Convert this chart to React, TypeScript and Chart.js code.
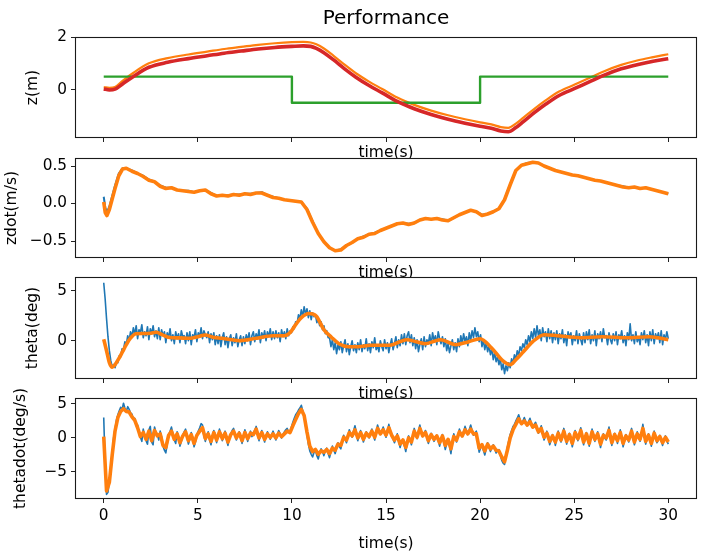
import React, { useEffect, useRef } from 'react';
import { Chart, registerables } from 'chart.js';

Chart.register(...registerables);

const FONT = "'DejaVu Sans', 'Liberation Sans', sans-serif";
const C_BLUE = '#1f77b4';
const C_ORANGE = '#ff7f0e';
const C_GREEN = '#2ca02c';
const C_RED = '#d62728';

const W = 723;
const H = 554;
const LEFT = 75.5;
const RIGHT = 696.5;
const TICK_SIZE = 15.3;
const LABEL_SIZE = 15.5;
const TITLE_SIZE = 20;
const TICK_LEN = 4.5;

const X_MIN = -1.5;
const X_MAX = 31.5;
const X_TICKS = [0, 5, 10, 15, 20, 25, 30];
const DT = 0.15;
const DT_FINE = 0.075;

// ---------- Panel 1 : z(m) ----------
const zT = [0, 0.3, 0.6, 1.0, 1.6, 2.4, 3.4, 4.5, 5.5, 6.4, 7.3, 8.2, 9.1, 10.0, 10.6, 11.0, 11.3, 11.7, 12.2, 12.8, 13.4, 14.1, 14.8, 15.6, 16.5, 17.4, 18.3, 19.2, 20.0, 20.6, 21.1, 21.5, 21.9, 22.3, 22.9, 23.5, 24.2, 25.0, 25.8, 26.6, 27.5, 28.4, 29.2, 30.0];
const zRed = [0.03, -0.01, 0.02, 0.22, 0.52, 0.86, 1.05, 1.19, 1.30, 1.40, 1.48, 1.56, 1.62, 1.66, 1.68, 1.66, 1.58, 1.42, 1.15, 0.80, 0.48, 0.16, -0.12, -0.45, -0.73, -0.95, -1.13, -1.28, -1.40, -1.48, -1.58, -1.61, -1.45, -1.22, -0.87, -0.55, -0.22, 0.04, 0.30, 0.56, 0.80, 0.97, 1.09, 1.19];
const zOrange = [0.10, 0.07, 0.10, 0.34, 0.66, 1.01, 1.21, 1.35, 1.46, 1.56, 1.64, 1.72, 1.78, 1.82, 1.83, 1.81, 1.74, 1.58, 1.31, 0.96, 0.63, 0.31, 0.03, -0.30, -0.58, -0.80, -0.98, -1.13, -1.25, -1.33, -1.43, -1.46, -1.30, -1.07, -0.72, -0.40, -0.07, 0.19, 0.45, 0.71, 0.95, 1.13, 1.25, 1.36];
const refT = [0, 10, 10, 20, 20, 30];
const refZ = [0.5, 0.5, -0.5, -0.5, 0.5, 0.5];

// ---------- Panel 2 : zdot(m/s) ----------
const zdotHeadT = [0, 0.08, 0.17, 0.3, 0.45, 0.6, 0.8, 1.0, 1.2];
const zdotTailStart = 1.5;
const zdotTailStep = 0.3;
const zdotHeadOrange = [0.02, -0.12, -0.16, -0.08, 0.06, 0.20, 0.37, 0.46, 0.47];
const zdotTailOrange = [
  0.43, 0.40, 0.36, 0.31, 0.29, 0.23, 0.20, 0.21, 0.18, 0.17,
  0.16, 0.15, 0.17, 0.18, 0.13, 0.10, 0.11, 0.10, 0.12, 0.11,
  0.13, 0.12, 0.14, 0.14, 0.11, 0.08, 0.07, 0.05, 0.04, 0.03,
  0.02, -0.08, -0.25, -0.40, -0.51, -0.59, -0.63, -0.62, -0.56, -0.52,
  -0.47, -0.45, -0.41, -0.40, -0.36, -0.33, -0.30, -0.27, -0.26, -0.28,
  -0.26, -0.22, -0.20, -0.21, -0.20, -0.22, -0.23, -0.19, -0.15, -0.12,
  -0.09, -0.11, -0.16, -0.14, -0.11, -0.07, 0.05, 0.25, 0.44, 0.51,
  0.53, 0.55, 0.54, 0.50, 0.47, 0.44, 0.42, 0.40, 0.38, 0.37,
  0.35, 0.33, 0.31, 0.30, 0.28, 0.26, 0.24, 0.22, 0.21, 0.22,
  0.20, 0.21, 0.19, 0.17, 0.15, 0.13,
];
const zdotHeadBlue = [0.09, -0.05, -0.12, -0.04, 0.10, 0.24, 0.40, 0.47, 0.47];
const zdotTailBlue = [
  0.44, 0.40, 0.37, 0.32, 0.29, 0.24, 0.21, 0.21, 0.18, 0.17,
  0.17, 0.15, 0.17, 0.18, 0.14, 0.10, 0.11, 0.11, 0.12, 0.12,
  0.13, 0.13, 0.14, 0.15, 0.11, 0.09, 0.07, 0.05, 0.04, 0.03,
  0.02, -0.07, -0.24, -0.40, -0.51, -0.59, -0.63, -0.61, -0.56, -0.52,
  -0.47, -0.44, -0.41, -0.39, -0.36, -0.33, -0.30, -0.27, -0.26, -0.27,
  -0.26, -0.22, -0.20, -0.21, -0.20, -0.21, -0.23, -0.19, -0.15, -0.12,
  -0.09, -0.11, -0.15, -0.14, -0.11, -0.07, 0.06, 0.26, 0.44, 0.51,
  0.54, 0.55, 0.54, 0.50, 0.47, 0.44, 0.42, 0.40, 0.38, 0.37,
  0.35, 0.33, 0.31, 0.30, 0.28, 0.26, 0.24, 0.23, 0.21, 0.22,
  0.20, 0.21, 0.19, 0.17, 0.15, 0.13,
];

// ---------- Panel 3 : theta(deg) ----------
const thetaBlue = [
  5.8, 4.2, 2.2, 0.4, -1.0, -2.0, -2.6, -2.4, -2.7, -2.1, -2.2, -1.5, -1.6, -0.8, -0.9, -0.1, -0.4, 0.5, 0.0, 0.9,
  0.4, 1.3, 0.6, 1.5, 0.2, 1.1, 0.8, 1.6, 0.3, 0.9, 0.5, 1.4, 0.1, 1.2, 0.7, 1.5, 0.4, 1.0, 0.2, 1.3,
  0.1, 1.1, 0.5, 0.9, -0.2, 0.8, 0.3, 1.2, 0.0, 0.6, -0.3, 0.9, 0.2, 0.7, -0.2, 1.0, 0.4, 0.5, -0.3, 0.8,
  0.0, 0.9, -0.4, 0.6, 0.3, 1.1, -0.1, 0.8, 0.4, 1.3, 0.2, 1.0, 0.6, 0.3, 0.9, -0.2, 0.7, 0.1, 0.8, -0.4,
  0.5, -0.3, 0.6, -0.6, 0.3, 0.8, -0.4, 0.4, -0.7, 0.2, 0.6, -0.5, 0.3, -0.2, 0.7, -0.6, 0.1, 0.5, -0.5, 0.4,
  -0.3, 0.6, 0.0, 0.8, -0.4, 0.5, 0.9, -0.1, 0.7, 0.2, 1.1, -0.2, 0.8, 0.3, 1.0, 0.0, 0.9, 0.4, 1.2, 0.1,
  0.9, 0.2, 1.0, 0.3, 0.8, -0.1, 1.1, 0.4, 0.9, 0.2, 1.2, 0.5, 1.0, 0.8, 1.4, 1.2, 1.9, 1.7, 2.6, 2.2,
  3.1, 2.4, 3.4, 2.6, 3.2, 2.3, 3.0, 2.1, 2.8, 2.4, 2.6, 1.8, 2.2, 1.5, 1.9, 1.1, 1.5, 0.7, 1.0, 0.3,
  0.3, -0.6, 0.1, -0.9, -0.2, -1.3, -0.4, -0.9, -0.1, -1.2, -0.5, 0.1, -1.1, -0.3, -1.4, -0.6, 0.0, -1.0, -0.4, -1.2,
  -0.2, -0.9, 0.1, -1.1, -0.4, -0.8, 0.2, -1.0, -0.3, -1.2, -0.1, -0.7, 0.3, -0.9, -0.5, -1.1, 0.0, -0.6, -1.0, 0.1,
  -0.8, -0.2, -1.2, -0.4, 0.2, -0.9, -0.3, 0.4, -0.7, 0.1, -0.5, 0.6, -0.3, 0.7, -0.4, 0.5, 0.9, -0.2, 0.6, -0.5,
  0.3, -0.8, 0.1, -1.1, -0.4, 0.2, -0.9, 0.4, -0.6, 0.1, -0.3, 0.6, -0.5, 0.8, 0.0, 0.5, -0.4, 0.9, 0.2, -0.3,
  0.4, -0.6, 0.2, -1.0, -0.3, -1.2, -0.5, 0.1, -0.9, -0.2, -1.1, 0.2, -0.6, 0.5, -0.3, 0.7, -0.1, 0.4, -0.5, 0.8,
  0.0, 1.0, 0.3, 1.3, 0.4, 0.9, -0.1, 0.6, -0.6, 0.1, -0.9, -0.2, -1.1, -0.5, -1.4, -0.8, -1.9, -1.2, -2.1, -1.6,
  -2.4, -1.8, -2.9, -2.3, -3.3, -2.5, -3.0, -2.2, -2.7, -1.8, -2.3, -1.4, -1.9, -1.0, -1.5, -0.6, -1.0, -0.3, -0.7, 0.1,
  -0.4, 0.5, -0.1, 0.9, 0.2, 1.2, 0.3, 1.5, 0.5, 1.1, 0.0, 1.3, 0.4, 0.9, -0.1, 1.2, 0.2, 1.0, -0.2, 0.8,
  0.1, 1.0, -0.3, 0.7, 0.2, 1.1, -0.2, 0.6, -0.5, 0.9, 0.3, 0.8, -0.4, 0.5, 0.0, 1.0, -0.3, 0.7, 0.1, -0.4,
  0.8, -0.2, 0.9, 0.1, 1.1, -0.3, 0.6, 0.0, 1.0, -0.5, 0.7, 0.2, 0.9, -0.1, 1.2, 0.3, 0.5, -0.4, 0.8, 0.1,
  -0.3, 0.7, 0.0, 0.9, -0.4, 0.6, 0.2, 1.0, -0.2, 0.5, -0.5, 0.8, 0.1, 1.7, 0.0, 0.6, -0.3, 0.9, -0.1, 0.4,
  -0.4, 0.8, 0.1, 1.0, -0.2, 0.6, -0.5, 0.9, 0.0, 1.1, -0.3, 0.7, 0.2, 0.8, -0.2, 1.0, -0.4, 0.6, 0.1, 0.9,
  0.2,
];
const thetaOrangeT = [0, 0.15, 0.3, 0.45, 0.6, 0.8, 1.0, 1.2, 1.4, 1.7, 2.1, 2.5, 2.8, 3.1, 3.5, 4.0, 4.6, 5.0, 5.4, 5.8, 6.3, 7.2, 8.1, 9.0, 9.6, 9.9, 10.2, 10.5, 10.9, 11.3, 11.7, 12.1, 12.5, 13.0, 13.5, 14.2, 15.2, 16.1, 16.6, 17.1, 17.9, 18.7, 19.4, 20.0, 20.6, 21.2, 21.6, 21.9, 22.3, 22.8, 23.4, 24.1, 25.3, 26.5, 27.8, 29.0, 30.0];
const thetaOrange = [0.15, -1.0, -2.2, -2.66, -2.4, -1.8, -1.1, -0.4, 0.2, 0.7, 0.72, 0.75, 0.85, 0.6, 0.32, 0.28, 0.24, 0.4, 0.57, 0.35, 0.24, 0.0, 0.24, 0.5, 0.5, 0.8, 1.6, 2.3, 2.72, 2.45, 1.1, 0.35, -0.3, -0.6, -0.6, -0.45, -0.45, 0.1, -0.1, -0.3, 0.1, -0.4, -0.1, 0.2, -0.7, -2.0, -2.4, -1.9, -1.1, -0.1, 0.6, 0.5, 0.3, 0.4, 0.3, 0.4, 0.1];

// ---------- Panel 4 : thetadot(deg/s) ----------
const thetadotBlue = [
  3.0, -4.0, -8.3, -8.0, -6.4, -4.5, -2.4, 0.0, 1.3, 2.6, 3.4, 4.0, 4.5, 4.2, 5.1, 4.4, 3.9, 4.6, 4.2, 3.7,
  3.5, 2.8, 2.9, 1.8, 1.9, 0.6, 0.1, -0.5, 1.3, 0.4, -0.4, -0.9, 1.2, 1.7, -0.6, -1.0, 1.6, 0.8, 0.5, -0.3,
  1.0, 0.2, -1.2, -1.8, -2.2, -0.9, 0.4, 1.0, 1.6, 0.6, -0.3, -0.8, 0.9, 0.2, -1.2, -0.5, 0.4, 0.9, 1.3, 0.1,
  -0.9, -0.2, 0.8, 0.1, -1.3, -0.6, 0.5, 1.0, 1.5, 2.1, 1.9, 0.3, -0.5, 0.4, 0.9, -0.3, -1.0, 0.2, 1.1, 0.5,
  -0.7, 0.4, 1.3, 0.6, -0.4, 0.3, 1.0, -0.2, -1.1, 0.0, 0.6, 1.1, 1.4, 0.5, -0.3, 0.4, 0.9, 0.1, -0.8, 0.2,
  1.2, 0.5, -0.5, 0.3, 1.0, 0.2, 0.7, 1.1, 1.7, 0.8, -0.4, 0.4, 1.1, 0.2, -0.6, 0.3, 0.9, 0.4, -0.2, 0.5,
  1.0, 0.3, -0.3, 0.5, 1.1, 0.6, 0.0, 0.5, 0.9, 1.2, 1.4, 0.9, 0.8, 1.6, 2.3, 2.9, 3.4, 3.7, 4.1, 4.4,
  4.8, 4.0, 3.2, 1.8, 0.5, -0.9, -1.9, -2.4, -2.8, -2.1, -1.8, -2.6, -3.1, -2.2, -1.6, -2.0, -2.6, -1.9, -1.5, -2.3,
  -2.9, -2.0, -1.2, -1.8, -2.3, -1.4, -0.7, -1.3, -1.6, -0.5, 0.4, -0.2, -0.7, 0.3, 1.2, 0.6, 0.1, 1.0, 1.8, 0.8,
  -0.4, 0.3, 1.1, 0.2, -0.6, 0.1, 0.9, 0.4, 0.0, 0.7, 1.3, 0.5, -0.3, 0.8, 1.9, 1.2, 0.5, 1.0, 1.6, 0.9,
  0.1, 1.0, 2.0, 1.1, 0.3, -0.2, -0.7, 0.0, 0.6, -0.5, -1.4, -0.6, -0.3, -1.1, -2.0, -0.8, 0.3, -0.2, -1.0, 0.3,
  1.4, 0.6, -0.1, 1.0, 1.9, 0.8, 0.2, 0.7, 1.1, 0.0, -0.8, -0.1, 0.7, 0.2, -0.5, 0.0, 0.4, -0.4, -1.2, -0.3,
  0.5, -0.6, -1.7, -0.9, -0.2, -1.2, -2.3, -0.8, 0.6, 0.0, -0.6, 0.4, 1.3, 0.7, 0.2, 0.9, 1.7, 1.1, 0.5, 1.2,
  1.9, 1.1, 0.4, 0.7, 1.0, -0.6, -2.1, -1.5, -1.1, -1.8, -2.5, -1.6, -0.7, -1.4, -2.0, -1.5, -1.0, -1.6, -2.2, -1.9,
  -1.7, -2.5, -3.3, -3.7, -3.9, -2.6, -1.4, -0.4, 0.5, 1.1, 1.7, 2.0, 2.5, 2.9, 3.4, 2.7, 2.0, 2.5, 3.0, 2.4,
  1.8, 2.4, 2.9, 2.1, 1.5, 2.0, 2.3, 1.5, 0.7, 1.2, 1.8, 0.8, -0.3, 0.3, 1.0, 0.1, -1.0, -0.3, 0.5, 0.0,
  -1.1, -0.1, 1.0, 0.2, -0.6, 0.4, 1.4, 0.3, -0.9, -0.1, 0.7, -0.2, -1.3, -0.2, 1.1, 0.3, -0.4, 0.5, 1.5, 0.4,
  -1.0, -0.1, 0.8, -0.2, -1.2, 0.0, 1.3, 0.4, -0.5, 0.3, 0.9, -0.3, -1.4, -0.4, 0.6, 0.0, -0.3, 0.6, 1.6, 0.2,
  -1.1, -0.2, 0.7, 0.0, -0.8, 0.2, 1.2, 0.1, -1.3, -0.4, 0.5, 0.0, -0.6, 0.4, 1.4, 0.2, -1.0, -0.1, 0.9, 0.1,
  -0.5, 0.6, 2.0, 0.5, -0.9, -0.2, 0.6, -0.3, -1.2, -0.1, 1.0, 0.1, -0.7, -0.3, 0.4, -0.4, -1.1, -0.2, 0.3, -0.4,
  -0.9,
];
const thetadotOrange = [
  0.2, -7.8, -6.5, -2.5, 1.0, 3.0, 3.9, 4.3, 3.9, 3.8,
  3.1, 2.6, 1.5, 0.2, 0.8, -0.2, 1.0, -0.4, 1.1, 0.3,
  0.6, -1.1, -1.4, 0.4, 1.0, -0.2, 0.6, -0.7, 0.3, 0.9,
  -0.4, 0.5, -0.8, 0.4, 1.0, 1.5, -0.1, 0.6, -0.5, 0.8,
  -0.3, 0.9, -0.1, 0.7, -0.6, 0.5, 1.0, 0.0, 0.7, -0.4,
  0.8, -0.1, 0.7, 0.5, 1.3, 0.0, 0.8, -0.2, 0.6, 0.1,
  0.6, 0.0, 0.7, 0.2, 0.6, 1.0, 0.8, 1.8, 2.7, 3.6,
  4.2, 3.3, 0.9, -1.2, -2.0, -1.7, -2.4, -1.9, -2.1, -1.7,
  -2.3, -1.5, -1.8, -0.9, -1.1, 0.1, -0.3, 0.8, 0.3, 1.2,
  0.0, 0.8, -0.2, 0.7, 0.2, 1.0, 0.1, 1.4, 0.6, 1.2,
  0.4, 1.5, 0.4, -0.3, 0.3, -0.9, -0.3, -1.4, 0.0, -0.6,
  1.0, 0.1, 1.4, 0.3, 0.8, -0.4, 0.5, -0.2, 0.3, -0.7,
  0.3, -1.1, -0.2, -1.6, 0.2, -0.3, 0.9, 0.3, 1.2, 0.6,
  1.3, 0.6, 0.6, -1.5, -1.0, -1.9, -0.9, -1.6, -1.2, -1.8,
  -1.9, -2.8, -3.5, -1.8, 0.0, 1.2, 2.0, 2.8, 2.1, 2.5,
  1.9, 2.4, 1.6, 1.9, 0.9, 1.4, 0.1, 0.7, -0.5, 0.3,
  -0.6, 0.7, -0.3, 1.0, -0.5, 0.5, -0.8, 0.8, -0.1, 1.1,
  -0.6, 0.6, -0.8, 0.9, -0.2, 0.6, -0.9, 0.4, 0.0, 1.1,
  -0.7, 0.5, -0.4, 0.8, -0.8, 0.3, -0.3, 1.0, -0.6, 0.6,
  -0.2, 1.4, -0.5, 0.4, -0.8, 0.7, -0.4, 0.2, -0.7, 0.1,
  -0.6,
];

// ---------- helpers ----------
const sampleTimes = (start: number, step: number, n: number) =>
  Array.from({ length: n }, (_, i) => Math.round((start + i * step) * 1000) / 1000);
const pts = (xs: number[], ys: number[]) => ys.map((y, i) => ({ x: xs[i], y }));

const coarseT = sampleTimes(0, DT, thetadotOrange.length);
const fineT = sampleTimes(0, DT_FINE, thetaBlue.length);
const zdotT = zdotHeadT.concat(sampleTimes(zdotTailStart, zdotTailStep, zdotTailOrange.length));
const zdotOrange = zdotHeadOrange.concat(zdotTailOrange);
const zdotBlue = zdotHeadBlue.concat(zdotTailBlue);

const minus = (s: string) => s.replace('-', '\u2212');

const line = (data: { x: number; y: number }[], color: string, width: number, smooth: boolean) => ({
  data,
  borderColor: color,
  backgroundColor: color,
  borderWidth: width,
  pointRadius: 0,
  fill: false,
  tension: 0,
  cubicInterpolationMode: smooth ? 'monotone' : 'default',
  borderJoinStyle: 'round',
  borderCapStyle: 'butt',
});

type Panel = {
  top: number;
  bottom: number;
  yMin: number;
  yMax: number;
  yTicks: number[];
  yFmt: (v: number) => string;
  yLabel: string;
  yLabelX: number;
  xLabelY: number;
  showXTicks: boolean;
  title?: string;
  datasets: any[];
};

const PANELS: Panel[] = [
  {
    top: 37.5, bottom: 137.5, yMin: -1.83, yMax: 2.0, yTicks: [0, 2],
    yFmt: (v) => minus(String(v)), yLabel: 'z(m)', yLabelX: 33, xLabelY: 153, showXTicks: false,
    title: 'Performance',
    datasets: [
      line(pts(zT, zRed), C_RED, 3.6, true),
      line(pts(refT, refZ), C_GREEN, 2.4, false),
      line(pts(zT, zOrange), C_ORANGE, 2.2, true),
    ],
  },
  {
    top: 158.5, bottom: 257.5, yMin: -0.72, yMax: 0.6, yTicks: [-0.5, 0, 0.5],
    yFmt: (v) => minus(v.toFixed(1)), yLabel: 'zdot(m/s)', yLabelX: 12, xLabelY: 273, showXTicks: false,
    datasets: [
      line(pts(zdotT, zdotOrange), C_ORANGE, 3.6, false),
      line(pts(zdotT, zdotBlue), C_BLUE, 2, false),
    ],
  },
  {
    top: 277.5, bottom: 378.5, yMin: -3.78, yMax: 6.32, yTicks: [0, 5],
    yFmt: (v) => minus(String(v)), yLabel: 'theta(deg)', yLabelX: 33, xLabelY: 394, showXTicks: false,
    datasets: [
      line(pts(thetaOrangeT, thetaOrange), C_ORANGE, 3.6, true),
      line(pts(fineT, thetaBlue), C_BLUE, 1.6, false),
    ],
  },
  {
    top: 398.5, bottom: 498.5, yMin: -8.9, yMax: 5.8, yTicks: [-5, 0, 5],
    yFmt: (v) => minus(String(v)), yLabel: 'thetadot(deg/s)', yLabelX: 21, xLabelY: 544, showXTicks: true,
    datasets: [
      line(pts(coarseT, thetadotOrange), C_ORANGE, 3.6, false),
      line(pts(fineT, thetadotBlue), C_BLUE, 1.6, false),
    ],
  },
];

const framePlugin = {
  id: 'axesFrame',
  beforeDraw(chart: any) {
    const { ctx, chartArea: a } = chart;
    ctx.save();
    ctx.fillStyle = '#ffffff';
    ctx.fillRect(a.left, a.top, a.right - a.left, a.bottom - a.top);
    ctx.restore();
  },
  afterDraw(chart: any) {
    const { ctx, chartArea: a } = chart;
    ctx.save();
    ctx.strokeStyle = '#1a1a1a';
    ctx.lineWidth = 1.1;
    ctx.strokeRect(a.left, a.top, a.right - a.left, a.bottom - a.top);
    ctx.restore();
  },
};

function buildConfig(p: Panel): any {
  const lh = LABEL_SIZE * 1.2;
  const xh = p.xLabelY - p.bottom + lh / 2;
  const titleLh = TITLE_SIZE * 1.2;
  const titleTop = 6.5;
  return {
    type: 'line',
    data: { datasets: p.datasets },
    options: {
      animation: false,
      responsive: false,
      devicePixelRatio: 1,
      events: [],
      layout: {
        padding: { left: 0, right: W - RIGHT, top: p.title ? 0 : p.top, bottom: H - p.bottom - xh },
      },
      plugins: {
        legend: { display: false },
        tooltip: { enabled: false },
        title: p.title
          ? {
              display: true,
              text: p.title,
              fullSize: false,
              color: '#000',
              font: { family: FONT, size: TITLE_SIZE, weight: 'normal' },
              padding: { top: titleTop, bottom: p.top - titleTop - titleLh },
            }
          : { display: false },
      },
      scales: {
        x: {
          type: 'linear',
          min: X_MIN,
          max: X_MAX,
          afterBuildTicks: (s: any) => {
            s.ticks = X_TICKS.map((v) => ({ value: v }));
          },
          afterFit: (s: any) => {
            s.height = xh;
          },
          grid: { drawOnChartArea: false, drawTicks: true, tickLength: TICK_LEN, color: '#222', lineWidth: 1 },
          border: { display: false },
          ticks: {
            display: p.showXTicks,
            autoSkip: false,
            maxRotation: 0,
            minRotation: 0,
            padding: 4,
            color: '#000',
            font: { family: FONT, size: TICK_SIZE },
            callback: (v: number) => minus(String(v)),
          },
          title: {
            display: true,
            text: 'time(s)',
            color: '#000',
            font: { family: FONT, size: LABEL_SIZE },
            padding: { top: 0, bottom: 0 },
          },
        },
        y: {
          type: 'linear',
          min: p.yMin,
          max: p.yMax,
          afterBuildTicks: (s: any) => {
            s.ticks = p.yTicks.map((v) => ({ value: v }));
          },
          afterFit: (s: any) => {
            s.width = LEFT;
          },
          grid: { drawOnChartArea: false, drawTicks: true, tickLength: TICK_LEN, color: '#222', lineWidth: 1 },
          border: { display: false },
          ticks: {
            autoSkip: false,
            padding: 4,
            color: '#000',
            font: { family: FONT, size: TICK_SIZE },
            callback: (v: number) => p.yFmt(v),
          },
          title: {
            display: true,
            text: p.yLabel,
            color: '#000',
            font: { family: FONT, size: LABEL_SIZE },
            padding: { top: p.yLabelX - lh / 2, bottom: 0 },
          },
        },
      },
    },
    plugins: [framePlugin],
  };
}

function PanelCanvas({ panel }: { panel: Panel }) {
  const ref = useRef<HTMLCanvasElement | null>(null);
  useEffect(() => {
    if (!ref.current) return;
    const chart = new Chart(ref.current, buildConfig(panel));
    return () => chart.destroy();
  }, [panel]);
  return (
    <canvas
      ref={ref}
      width={W}
      height={H}
      style={{ position: 'absolute', left: 0, top: 0, width: W, height: H }}
    />
  );
}

export default function App() {
  return (
    <div style={{ position: 'absolute', left: 0, top: 0, width: W, height: H, background: '#fff', overflow: 'hidden' }}>
      {PANELS.map((p, i) => (
        <PanelCanvas key={i} panel={p} />
      ))}
    </div>
  );
}
